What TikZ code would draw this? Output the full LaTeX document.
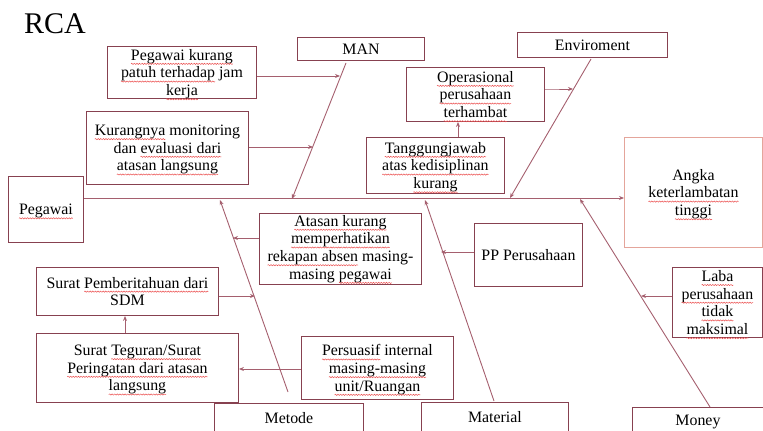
\documentclass[tikz,border=0pt]{standalone}
\usepackage{fontspec}
\setmainfont{Liberation Serif}
\usetikzlibrary{arrows.meta,decorations.pathmorphing}
\definecolor{boxc}{RGB}{135,65,80}
\definecolor{linec}{RGB}{165,95,110}
\definecolor{pinkc}{RGB}{228,165,155}
\definecolor{wavec}{RGB}{235,80,80}
\newsavebox\sqbox
\newcommand\sq[1]{\sbox\sqbox{#1}\tikz[baseline=0pt,x=1pt,y=1pt]{\pgftext[base,left]{\usebox\sqbox}%
\draw[overlay,draw=wavec,line width=0.5pt,decorate,decoration={snake,amplitude=0.6pt,segment length=2.6pt}] (0,-3.6) -- (\wd\sqbox,-3.6);}}
\begin{document}
\begin{tikzpicture}[x=1pt,y=-1pt,
  box/.style={draw=boxc,line width=0.9pt,align=center,inner sep=0pt,anchor=north west,
    font=\rmfamily\fontsize{15.9}{17.7}\selectfont},
  conn/.style={draw=linec,line width=0.9pt,-{Stealth[length=5pt,width=4pt]}},
  bone/.style={draw=linec,line width=0.9pt,-{Stealth[length=5pt,width=4pt]}}]
\useasboundingbox (0,0) rectangle (763,431);
\clip (0,0) rectangle (763,431);
% title
\node[font=\rmfamily\fontsize{30}{30}\selectfont,anchor=base west,inner sep=0pt] (rca) at (24,33) {RCA};
% boxes
\node[box,minimum width=127pt,minimum height=23pt] (man) at (297,37) {MAN};
\node[box,minimum width=149pt,minimum height=52pt] (pkj) at (107,46) {\sq{Pegawai kurang}\\\sq{patuh terhadap} jam\\\sq{kerja}};
\node[box,minimum width=162pt,minimum height=73pt] (kmon) at (86,111) {\sq{Kurangnya} monitoring\\dan \sq{evaluasi dari}\\\sq{atasan langsung}};
\node[box,minimum width=75pt,minimum height=66pt] (peg) at (8,176) {\sq{Pegawai}};
\node[box,draw=pinkc,minimum width=138pt,minimum height=110pt] (angka) at (624,137) {Angka\\\sq{keterlambatan}\\\sq{tinggi}};
\node[box,minimum width=150pt,minimum height=25pt] (env) at (517,32) {Enviroment};
\node[box,minimum width=138pt,minimum height=54pt] (ops) at (406,67) {\sq{Operasional}\\\sq{perusahaan}\\\sq{terhambat}};
\node[box,minimum width=138pt,minimum height=56pt] (tgj) at (366,137) {\sq{Tanggungjawab}\\\sq{atas kedisiplinan}\\\sq{kurang}};
\node[box,minimum width=162pt,minimum height=71pt] (atasan) at (259,213) {\sq{Atasan kurang}\\\sq{memperhatikan}\\\sq{rekapan absen} masing-\\masing \sq{pegawai}};
\node[box,minimum width=182pt,minimum height=48pt] (sdm) at (36,267) {Surat \sq{Pemberitahuan dari}\\SDM};
\node[box,minimum width=202pt,minimum height=69pt] (teg) at (36,333) {Surat \sq{Teguran/Surat}\\\sq{Peringatan dari atasan}\\\sq{langsung}};
\node[box,minimum width=152pt,minimum height=63pt] (pers) at (301,336) {\sq{Persuasif} internal\\\sq{masing-masing}\\\sq{unit/Ruangan}};
\node[box,minimum width=108pt,minimum height=63pt] (pp) at (474,223) {PP Perusahaan};
\node[box,minimum width=90pt,minimum height=70pt] (laba) at (672,267) {\sq{Laba}\\\sq{perusahaan}\\\sq{tidak}\\\sq{maksimal}};
\node[box,minimum width=149pt,minimum height=30pt] (metode) at (214,403) {Metode};
\node[box,minimum width=147pt,minimum height=30pt] (material) at (421,402) {Material};
\node[box,minimum width=131pt,minimum height=30pt] (money) at (632,407) {Money};
% bone coordinates
\coordinate (sp) at (0,198);
\coordinate (manS) at (346,63);
\coordinate (manT) at (292,199);
\coordinate (envS) at (591,59);
\coordinate (envT) at (510,198);
\coordinate (metS) at (288,392);
\coordinate (metT) at (220,200);
\coordinate (matS) at (494,401);
\coordinate (matT) at (425,200);
\coordinate (monS) at (710,407);
\coordinate (monT) at (580,199);
\coordinate (manA) at (340,76);
\coordinate (manB) at (313,147);
\coordinate (envA) at (573,89);
\coordinate (metA) at (233,238);
\coordinate (metB) at (255,296);
\coordinate (matA) at (441,252);
\coordinate (monA) at (641,296);
% spine
\draw[conn] (peg.east |- sp) -- (angka.west |- sp);
% bones
\draw[bone] (manS) -- (manT);
\draw[bone] (envS) -- (envT);
\draw[bone] (metS) -- (metT);
\draw[bone] (matS) -- (matT);
\draw[bone] (monS) -- (monT);
% causes
\draw[conn] (pkj.east |- manA) -- (manA);
\draw[conn] (kmon.east |- manB) -- (manB);
\draw[conn] (ops.east |- envA) -- ++(4,0) -- (envA);
\draw[conn] (tgj.north -| 458,0) -- (ops.south -| 458,0);
\draw[conn] (atasan.west |- metA) -- (metA);
\draw[conn] (sdm.east |- metB) -- (metB);
\draw[conn] (teg.north -| 125,0) -- (sdm.south -| 125,0);
\draw[conn] (pers.west |- 0,369) -- (teg.east |- 0,369);
\draw[conn] (pp.west |- matA) -- (matA);
\draw[conn] (laba.west |- monA) -- (monA);
\end{tikzpicture}
\end{document}
